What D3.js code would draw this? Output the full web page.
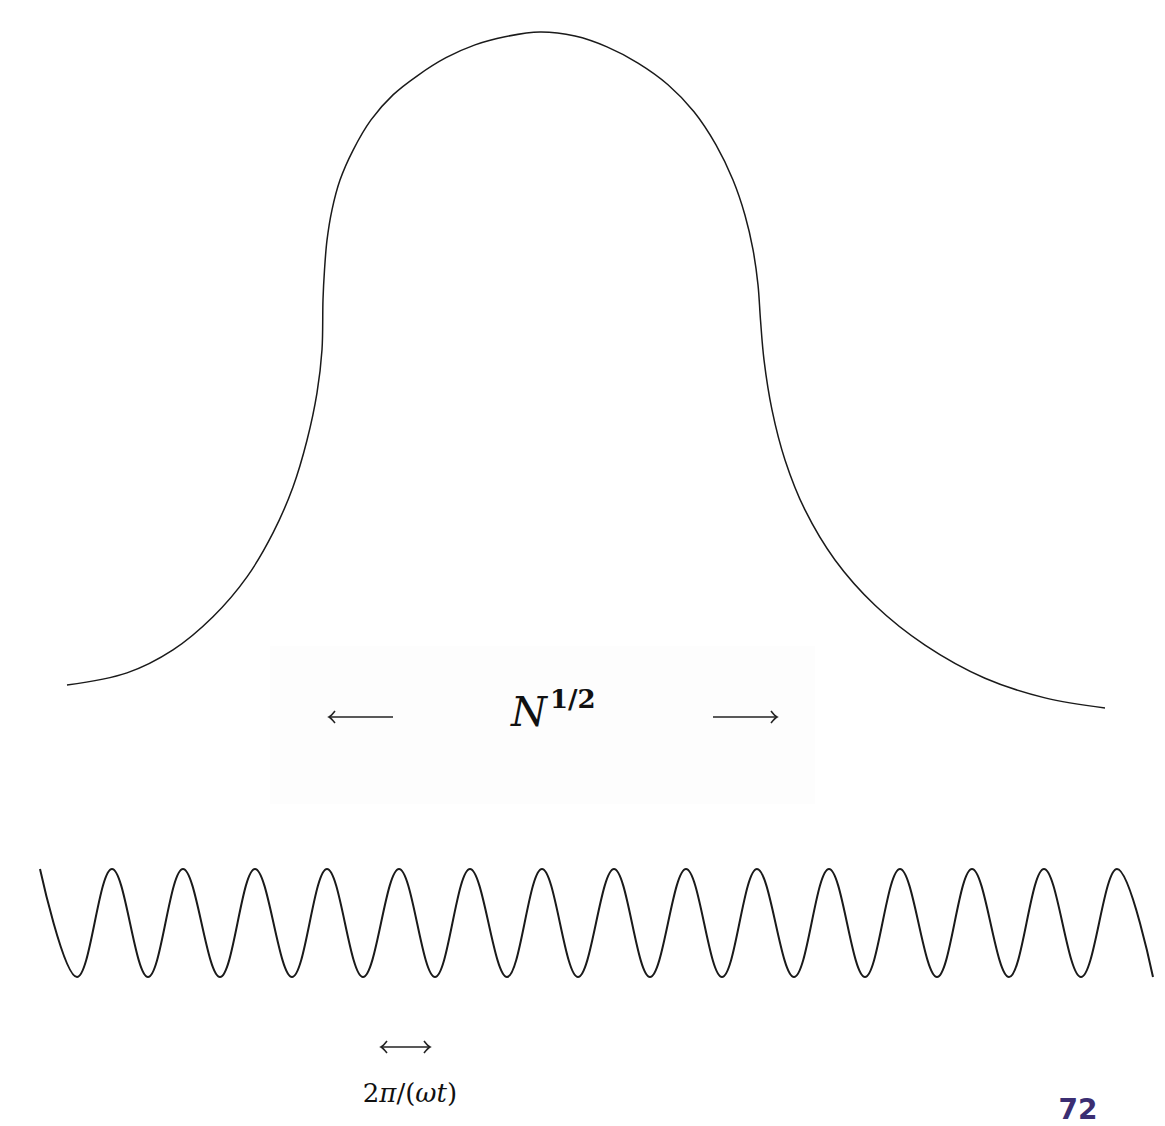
<!DOCTYPE html>
<html>
<head>
<meta charset="utf-8">
<script src="https://cdn.jsdelivr.net/npm/d3@7"></script>
<style>
  body { margin: 0; background: #fff; }
  text { font-family: "DejaVu Serif", "Liberation Serif", serif; fill: #111; }
</style>
</head>
<body>
<div id="chart"></div>
<script>
// ---- DATA ----------------------------------------------
// bell: position along x, relative height 0..1
var bellX = [2.7, 8.7, 13.3, 17.3, 20.7, 23.3, 25.3, 26.7, 27.7, 28.2, 28.3, 28.45, 28.7, 29.2, 30.0, 31.3, 33.1, 35.3, 37.8, 40.6, 43.5, 46.5, 50.0,
             53.5, 56.7, 59.8, 62.8, 65.4, 67.6, 69.3, 70.5, 71.3, 71.8, 72.05, 72.4, 73.2, 74.5, 76.5, 79.5, 83.5, 88.5, 94.5, 100.5, 106.5];
var bellY = [0.034, 0.052, 0.086, 0.135, 0.194, 0.259, 0.327, 0.396, 0.466, 0.530, 0.604, 0.648, 0.692, 0.737, 0.781, 0.825, 0.870, 0.907, 0.936, 0.962, 0.981, 0.993, 1.000,
             0.994, 0.978, 0.954, 0.922, 0.882, 0.833, 0.781, 0.729, 0.678, 0.626, 0.574, 0.515, 0.441, 0.367, 0.293, 0.219, 0.152, 0.093, 0.044, 0.015, 0.0];

// oscillation: peaks and troughs
var peaksX   = [0, 7.2, 14.3, 21.5, 28.7, 35.9, 43.0, 50.2, 57.4, 64.6, 71.7, 78.9, 86.0, 93.2, 100.4, 107.7];
var troughsX = [3.7, 10.8, 18.0, 25.2, 32.3, 39.5, 46.7, 53.8, 61.0, 68.2, 75.4, 82.5, 89.7, 96.9, 104.1, 111.3];

var labelWidth = "N";
var labelWidthExp = "1/2";
var labelPeriod = ["2", "π", "/(", "ω", "t", ")"];
var pageNo = "72";

// ---- SETUP -----------------------
var W = 1165, H = 1126;

var svg = d3.select("#chart").append("svg")
    .attr("width", W)
    .attr("height", H);

svg.append("rect").attr("width", W).attr("height", H).attr("fill", "#fff");
// faint box behind the label (scan artefact)
svg.append("rect").attr("x", 270).attr("y", 646).attr("width", 545).attr("height", 158).attr("fill", "#fdfdfd");

var x = d3.scaleLinear().domain([0, 111.3]).range([40, 1153]);
var yBell = d3.scaleLinear().domain([0, 1]).range([708, 32]);
var yWave = d3.scaleLinear().domain([-1, 1]).range([977, 869]);

// ---- BELL -----------------------
var bell = bellX.map((d, i) => [d, bellY[i]]);
var bellLine = d3.line()
    .x(d => x(d[0]))
    .y(d => yBell(d[1]))
    .curve(d3.curveCatmullRom.alpha(0.5));

svg.append("path")
    .attr("d", bellLine(bell))
    .attr("fill", "none")
    .attr("stroke", "#1a1a1a")
    .attr("stroke-width", 1.5);

// ---- WAVE -----------------------
var wave = peaksX.map(d => [d, 1]).concat(troughsX.map(d => [d, -1]))
    .sort((a, b) => a[0] - b[0]);
var waveLine = d3.line()
    .x(d => x(d[0]))
    .y(d => yWave(d[1]))
    .curve(d3.curveCardinal.tension(-0.1));

svg.append("path")
    .attr("d", waveLine(wave))
    .attr("fill", "none")
    .attr("stroke", "#1a1a1a")
    .attr("stroke-width", 2);

// ---- ARROWS -----------------------
function arrow(x1, x2, y, left, right) {
    var g = svg.append("g").attr("stroke", "#222").attr("fill", "none").attr("stroke-width", 1.6);
    g.append("line").attr("x1", x1).attr("x2", x2).attr("y1", y).attr("y2", y);
    if (left) {
        g.append("path").attr("d", "M" + (x1 + 6) + "," + (y - 6) + " Q" + (x1 + 2) + "," + (y - 1) + " " + x1 + "," + y
            + " Q" + (x1 + 2) + "," + (y + 1) + " " + (x1 + 6) + "," + (y + 6));
    }
    if (right) {
        g.append("path").attr("d", "M" + (x2 - 6) + "," + (y - 6) + " Q" + (x2 - 2) + "," + (y - 1) + " " + x2 + "," + y
            + " Q" + (x2 - 2) + "," + (y + 1) + " " + (x2 - 6) + "," + (y + 6));
    }
}

arrow(329, 393, 717, true, false);
arrow(713, 777, 717, false, true);
arrow(381, 430, 1047, true, true);

// ---- LABELS -----------------------
var t = svg.append("text")
    .attr("x", 511)
    .attr("y", 726)
    .style("font-size", "41px")
    .style("font-style", "italic");
t.append("tspan").text(labelWidth);
t.append("tspan")
    .attr("dy", -18)
    .attr("dx", 3)
    .style("font-size", "26px")
    .style("font-style", "normal")
    .style("font-weight", "bold")
    .text(labelWidthExp);

var p = svg.append("text")
    .attr("x", 410)
    .attr("y", 1102)
    .attr("text-anchor", "middle")
    .style("font-size", "26px");
labelPeriod.forEach((s, i) => {
    p.append("tspan")
        .style("font-style", (i == 1 || i == 3 || i == 4) ? "italic" : "normal")
        .text(s);
});

svg.append("text")
    .attr("x", 1078)
    .attr("y", 1119)
    .attr("text-anchor", "middle")
    .style("font-family", "DejaVu Sans, sans-serif")
    .style("font-weight", "bold")
    .style("font-size", "28px")
    .style("fill", "#3b2e72")
    .text(pageNo);
</script>
</body>
</html>
